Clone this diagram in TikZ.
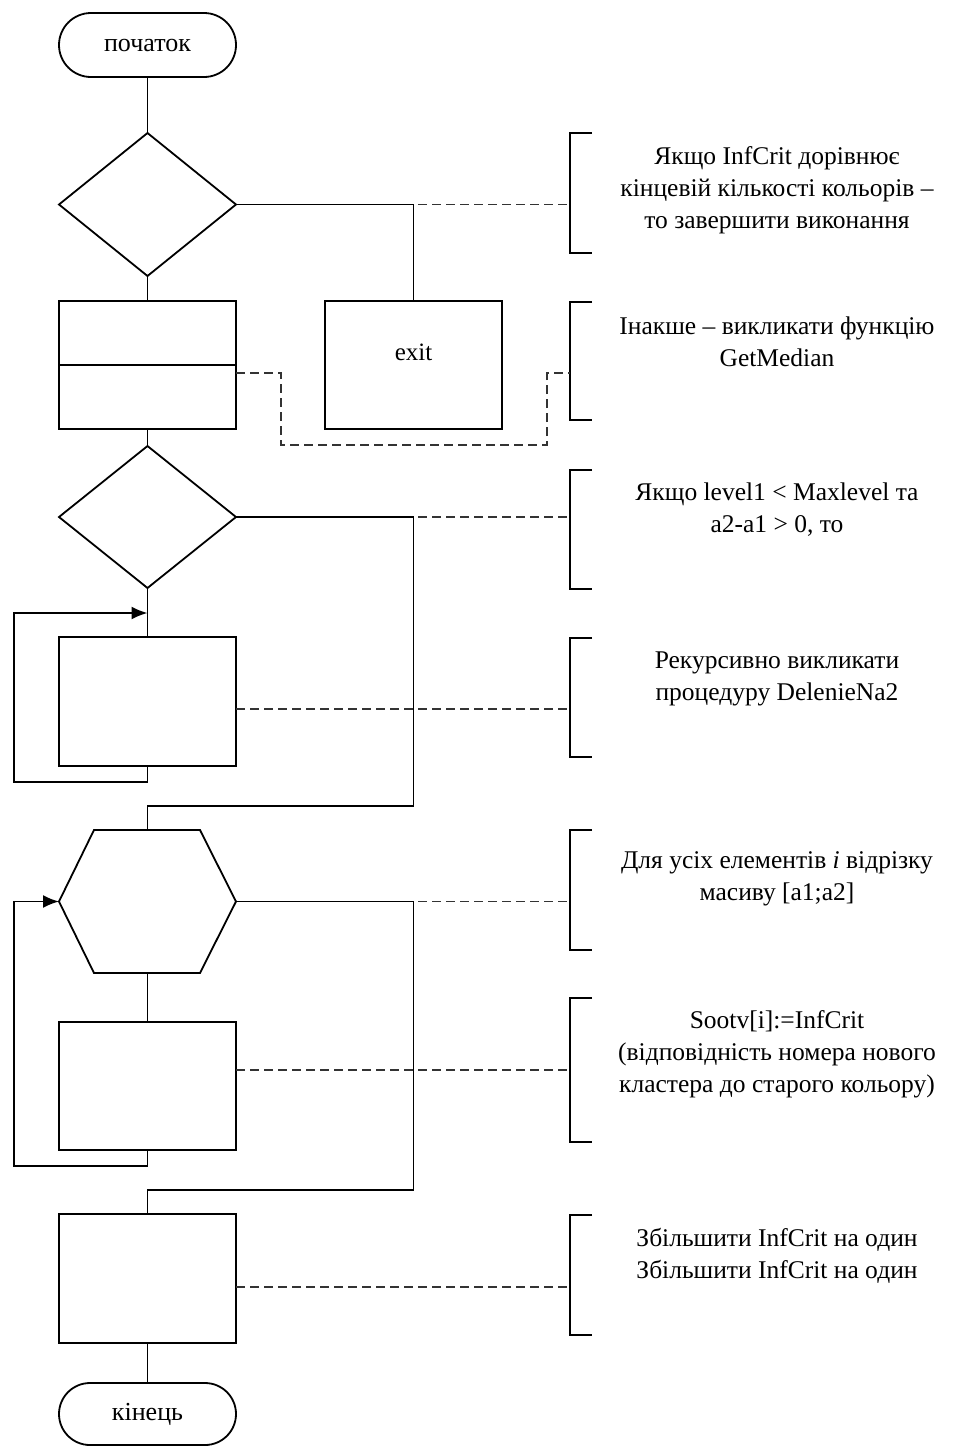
\documentclass[tikz,border=0pt]{standalone}
\usepackage{fontspec}
\setmainfont{Liberation Serif}
\usetikzlibrary{shapes.geometric,shapes.misc,arrows.meta}
\begin{document}
\begin{tikzpicture}[x=1pt,y=-1pt,
  line width=1.8pt,
  blk/.style={draw, rectangle, minimum width=177pt, minimum height=128pt, inner sep=0pt, outer sep=0pt},
  term/.style={draw, rounded rectangle, minimum width=177pt, minimum height=64pt, inner sep=0pt, outer sep=0pt, font=\fontsize{26}{30}\selectfont},
  cond/.style={draw, diamond, minimum width=177pt, minimum height=143pt, inner sep=0pt, outer sep=0pt},
  note/.style={draw=black!80, line width=1.8pt, dash pattern=on 9pt off 5pt},
  txt/.style={align=center, font=\fontsize{25.5}{32}\selectfont, inner sep=0pt},
  arr/.style={-{Latex[length=16pt,width=13pt]}}
]
\path[use as bounding box, fill=white] (0,0) rectangle (954,1446);

% ---- flowchart blocks ----
\node[term] (start) at (147.5,45) {початок};
\node[cond] (d1) at (147.5,204.5) {};
\node[blk] (b1) at (147.5,365) {};
\draw (b1.west) -- (b1.east);
\node[blk] (ex) at (413.5,365) {};
\node[font=\fontsize{25}{30}\selectfont] (exT) at (413.5,352) {exit};
\node[cond, minimum height=142pt] (d2) at (147.5,517) {};
\node[blk, minimum height=129pt] (b3) at (147.5,701.5) {};
% hexagonal loop header
\node[minimum width=177pt, minimum height=143pt, inner sep=0pt, outer sep=0pt] (hex) at (147.5,901.5) {};
\draw (hex.west) -- (94,830) -- (200,830) -- (hex.east) -- (200,973) -- (94,973) -- cycle;
\node[blk] (b4) at (147.5,1086) {};
\node[blk, minimum height=129pt] (b5) at (147.5,1278.5) {};
\node[term, minimum height=62pt] (end) at (147.5,1414) {кінець};

% ---- annotation brackets ----
\coordinate (k1) at (570,204.5);
\coordinate (k2) at (570,373);
\coordinate (k3) at (570,517);
\coordinate (k4) at (570,709);
\coordinate (k5) at (570,901.5);
\coordinate (k6) at (570,1070);
\coordinate (k7) at (570,1287);
\draw (592,133) -- (570,133) -- (570,253) -- (592,253);
\draw (592,302) -- (570,302) -- (570,420) -- (592,420);
\draw (592,470) -- (570,470) -- (570,589) -- (592,589);
\draw (592,638) -- (570,638) -- (570,757) -- (592,757);
\draw (592,830) -- (570,830) -- (570,950) -- (592,950);
\draw (592,998) -- (570,998) -- (570,1142) -- (592,1142);
\draw (592,1215) -- (570,1215) -- (570,1335) -- (592,1335);

\node[txt] (t1) at (777,190) {Якщо InfCrit дорівнює\\кінцевій кількості кольорів –\\то завершити виконання};
\node[txt] (t2) at (777,342) {Інакше – викликати функцію\\GetMedian};
\node[txt] (t3) at (777,510) {Якщо level1 < Maxlevel та\\a2-a1 > 0, то};
\node[txt] (t4) at (777,679) {Рекурсивно викликати\\процедуру DelenieNa2};
\node[txt] (t5) at (777,879) {Для усіх елементів \textit{i} відрізку\\масиву [a1;a2]};
\node[txt] (t6) at (777,1054) {Sootv[i]:=InfCrit\\(відповідність номера нового\\кластера до старого кольору)};
\node[txt] (t7) at (777,1256) {Збільшити InfCrit на один\\Збільшити InfCrit на один};

% ---- dashed annotation links ----
\draw[note] (d1.east) -- (k1);
\draw[note] ([yshift=-8pt]b1.east) -- (281,373) -- (281,445) -- (547,445) -- (547,373) -- (k2);
\draw[note] (d2.east) -- (k3);
\draw[note] ([yshift=-7.5pt]b3.east) -- (k4);
\draw[note] (hex.east) -- (k5);
\draw[note] ([yshift=16pt]b4.east) -- (k6);
\draw[note] ([yshift=-8.5pt]b5.east) -- (k7);

% ---- control flow ----
\coordinate (r2) at (413.5,806);
\coordinate (r3) at (413.5,1190);
\coordinate (j1) at (147.5,613);
\draw (start.south) -- (d1.north);
\draw (d1.south) -- (b1.north);
\draw (d1.east) -| (ex.north);
\draw (b1.south) -- (d2.north);
\draw (d2.south) -- (b3.north);
\draw[arr] (b3.south) -- ++(0,16) -- (14,782) |- (j1);
\draw (d2.east) -| (r2) -| (hex.north);
\draw (hex.south) -- (b4.north);
\draw[arr] (b4.south) -- ++(0,16) -- (14,1166) |- (hex.west);
\draw (hex.east) -| (r3) -| (b5.north);
\draw (b5.south) -- (end.north);
\end{tikzpicture}
\end{document}
